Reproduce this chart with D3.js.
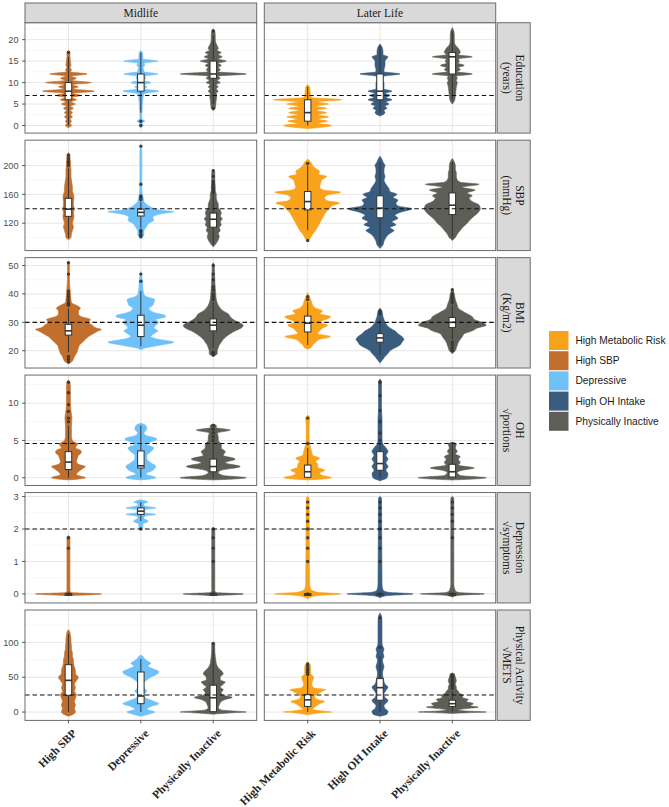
<!DOCTYPE html>
<html>
<head>
<meta charset="utf-8">
<script src="https://cdn.jsdelivr.net/npm/d3@7"></script>
<style>
  body { margin: 0; background: #fff; }
  svg { display: block; }
</style>
</head>
<body>
<script>
// categories
const stages = ["Midlife", "Later Life"];
const groupsMidlife = ["High SBP", "Depressive", "Physically Inactive"];
const groupsLater = ["High Metabolic Risk", "High OH Intake", "Physically Inactive"];
const legendGroups = ["High Metabolic Risk", "High SBP", "Depressive", "High OH Intake", "Physically Inactive"];
const legendColors = ["#F9A31C", "#C26F2D", "#6EC1F9", "#3A5C7E", "#5D5E56"];

// rows (facets)
const measureLabels = [
    ["Education", "(years)"],
    ["SBP", "(mmHg)"],
    ["BMI", "(Kg/m2)"],
    ["OH", "\u221Aportions"],
    ["Depression", "\u221Asymptoms"],
    ["Physical Activity", "\u221AMETS"]
];
const yLimits = [[-1.77, 23.95], [82, 235.3], [13.9, 52.8], [-1.04, 13.77], [-0.278, 3.124], [-12, 146.5]];
const yTicks = [[0, 5, 10, 15, 20], [120, 160, 200], [20, 30, 40, 50], [0, 5, 10], [0, 1, 2, 3], [0, 50, 100]];
const refValues = [7, 140, 30, 4.6, 2, 24.5];

// violin profiles: [value, relative half width]
// order in each: Midlife High SBP, Depressive, Phys. Inactive, Later High Metabolic Risk, High OH Intake, Phys. Inactive
const violinEducation = [
    [[-0.5,0],[0,3],[0.5,1.5],[1,3],[1.5,1.5],[2,4],[2.5,2],[3,4],[3.5,2],[4,5],[4.5,2],[5,7],[5.5,2.5],[6,8],[6.5,3],[7,12],[7.5,4],[8,26],[8.5,5],[9,10],[9.5,4],[10,23],[10.5,4],[11,8],[11.5,3],[12,18.7],[12.5,2],[13,3],[13.5,1.5],[14,2.5],[15,2],[16,1.5],[17,1.5],[17.5,0]],
    [[-0.5,0],[0,2],[0.5,1],[1,4],[1.5,1],[2,1],[3,1],[4,1.5],[5,1.5],[6,2],[7,2.5],[7.5,4],[8,18],[8.5,4],[9,6],[9.5,3],[10,10],[10.5,3],[11,5],[11.5,4],[12,17],[12.5,3],[13,3],[13.5,2],[14,4],[14.5,3],[15,17],[15.5,2],[16,2],[17,1.5],[17.5,0]],
    [[3.5,0],[4,2],[5,2.5],[6,3],[7,3.5],[7.5,3],[8,5],[8.5,3],[9,5],[9.5,3],[10,7],[10.5,4],[11,7],[11.5,5],[12,33],[12.5,5],[13,7],[13.5,5],[14,8],[14.5,5],[15,13],[15.5,5],[16,9],[16.5,5],[17,8],[17.5,4],[18,5],[19,3],[20,2],[21,2],[22,1.5],[22.5,0]],
    [[-0.7,0],[0,24],[0.5,10],[1,20],[1.5,10],[2,21],[2.5,10],[3,19],[3.5,9],[4,19],[4.5,9],[5,21],[5.5,10],[6,34],[6.5,4],[7,3],[8,2.5],[9,2],[9.5,0]],
    [[2.2,0],[3,5],[3.5,4],[4,7],[4.5,5],[5,9],[5.5,6],[6,12],[6.5,6],[7,10],[7.5,5],[8,12],[8.5,4],[9,4],[10,4],[10.5,3],[11,3],[11.5,4],[12,20],[12.5,4],[13,4],[14,5],[15,5],[16,8],[16.5,3],[17,3],[18,2.5],[19,0]],
    [[5,0],[6,2.5],[7,3],[8,3.5],[9,4],[10,5],[10.5,4],[11,5],[11.5,4],[12,20],[12.5,5],[13,8],[13.5,6],[14,12],[14.5,6],[15,7],[15.5,6],[16,20],[16.5,6],[17,8],[18,6],[19,2.5],[20,2],[21,2],[22,1.5],[22.8,0]]
];
const violinSBP = [
    [[97,0],[100,2.5],[105,3],[110,4],[115,5],[120,4],[125,5],[130,5.5],[135,5],[140,6],[145,5],[150,5],[155,5.5],[160,5],[165,4],[170,4],[175,3.5],[180,3],[185,2.5],[190,2.5],[195,2.5],[200,2],[205,2],[210,1.5],[215,1.5],[218,0]],
    [[100,0],[103,3],[108,3],[112,4],[116,6],[120,8],[124,13],[128,12],[131,15],[134,25],[136,33],[138,20],[141,12],[144,8],[147,5],[150,3],[155,2.5],[160,1.5],[170,1],[180,1],[200,1],[220,1],[228,0]],
    [[87,0],[92,3],[97,5],[102,6],[106,5],[110,7],[114,6],[118,8],[122,7],[126,9],[130,7],[134,8],[138,7],[142,5],[146,5],[150,4],[155,3],[160,3],[165,2],[170,2],[180,1.5],[190,1.5],[195,0]],
    [[94,0],[100,3],[105,5],[110,8],[115,10],[120,12],[125,14],[130,16],[135,18],[140,22],[144,24],[148,32],[151,20],[155,17],[159,20],[163,33],[166,16],[170,12],[175,13],[180,14],[185,19],[188,11],[192,12],[196,8],[200,5],[205,3],[209,0]],
    [[85,0],[90,3],[95,4],[100,6],[105,9],[110,14],[114,10],[118,16],[122,12],[127,18],[131,15],[135,20],[140,32],[144,18],[148,16],[152,18],[156,13],[160,17],[164,10],[168,9],[172,7],[176,5],[180,4],[185,5],[190,4],[195,4],[200,5],[205,3],[210,1.5],[213,0]],
    [[96,0],[100,3],[105,5],[110,8],[115,11],[120,15],[125,18],[130,22],[135,26],[140,28],[145,27],[150,20],[155,17],[158,20],[162,15],[166,23],[170,10],[174,27],[177,8],[180,5],[185,4],[190,4],[195,3],[200,3],[205,2],[210,0]]
];
const violinBMI = [
    [[15.5,0],[16,3],[17,5],[18,6],[19,8],[20,9],[21,10],[22,11],[23,14],[24,17],[25,20],[26,25],[27,30],[27.5,33],[28,28],[29,24],[30,20],[31,22],[32,13],[33,10],[34,10],[35,12],[36,8],[37,3],[38,2.5],[40,2],[42,1.5],[45,1],[48,1],[51,1],[51.5,0]],
    [[20.3,0],[21,5],[22,20],[23,33],[24,18],[25,10],[26,13],[27,17],[28,13],[29,15],[30,18],[31,15],[32,25],[32.5,24],[33,18],[34,10],[35,8],[36,12],[37,13],[38,14],[39,6],[40,3],[42,2],[45,1.5],[48,0]],
    [[18,0],[19,4],[20,4],[21,5],[22,6],[23,8],[24,10],[25,13],[26,17],[27,22],[28,28],[29,30],[30,25],[31,20],[32,17],[33,15],[34,10],[35,7],[36,5],[38,3],[40,2.5],[42,2],[45,1.5],[50,1],[51,0]],
    [[20.5,0],[21,3],[22,5],[23,8],[24,12],[25,23],[26,10],[27,12],[28,15],[29,20],[30,12],[31,18],[32,23],[33,12],[34,15],[35,8],[36,5],[37,4],[38,3],[39,2],[40.5,0]],
    [[15.7,0],[17,3],[18,5],[19,8],[20,10],[21,15],[22,20],[23,22],[24,24],[25,22],[26,18],[27,15],[28,10],[29,7],[30,5],[31,4],[32,3],[33,2.5],[34,2],[35,0]],
    [[19,0],[20,3],[21,4],[22,5],[23,6],[24,8],[25,10],[26,12],[27,20],[28,25],[29,34],[30,30],[31,22],[32,20],[33,15],[34,10],[35,6],[36,5],[37,4],[38,3],[40,2],[42,0]]
];
const violinOH = [
    [[-0.3,0],[0,17],[0.4,8],[0.8,10],[1.2,14],[1.5,17],[1.8,10],[2.2,8],[2.6,9],[3,10],[3.4,13],[3.7,12],[4,7],[4.5,9],[5,4],[5.5,3],[6,3],[7,3],[8,3.5],[9,2.5],[10,2],[11,2],[12,2],[12.8,1.5],[13.1,0]],
    [[-0.3,0],[0,15],[0.5,5],[1,12],[1.5,15],[2,10],[2.5,6],[3,6],[3.5,10],[4,13],[4.5,6],[5.2,16],[5.7,5],[6,3],[6.5,6],[7,5],[7.3,0]],
    [[-0.3,0],[0,33],[0.3,10],[0.7,5],[1,8],[1.5,27],[2,12],[2.5,22],[3,10],[3.5,12],[4,8],[4.5,8],[5,5],[5.5,5],[6,4],[6.4,17],[6.7,3],[7,3],[7.2,0]],
    [[-0.3,0],[0,24],[0.3,15],[0.6,12],[1,17],[1.4,10],[1.8,10],[2.2,8],[2.6,12],[3,5],[3.5,4],[4,3],[4.5,2],[5,1.5],[6,1.5],[7,1.5],[8,2],[8.4,0]],
    [[-0.4,0],[0,7],[0.5,8],[1,6],[1.5,8],[2,6],[2.5,8],[3,6],[3.5,8],[4,6],[4.5,3],[5,2],[6,2],[7,2],[8,2],[9,1.5],[10,1.5],[11,1.5],[12,1.5],[12.9,1.5],[13.2,0]],
    [[-0.3,0],[0,34],[0.3,8],[0.7,5],[1,10],[1.3,22],[1.7,6],[2,8],[2.5,6],[2.8,8],[3.2,3],[3.5,5],[4,3],[4.5,4],[4.8,0]]
];
const violinDepression = [
    [[-0.05,0],[0,33],[0.04,3],[0.1,1.5],[1.75,1.5],[1.8,0]],
    [[1.98,0],[2.05,2],[2.15,2],[2.24,7.5],[2.33,3],[2.4,4],[2.45,15],[2.5,4],[2.6,4],[2.65,15],[2.72,3],[2.78,3],[2.83,7],[2.9,0]],
    [[-0.05,0],[0,30],[0.04,3],[0.1,1.5],[2.0,1.5],[2.05,0]],
    [[-0.15,0],[-0.05,10],[0,33],[0.05,10],[0.15,3],[0.3,2],[2.95,1.5],[3.0,0]],
    [[-0.12,0],[-0.05,8],[0,33],[0.05,8],[0.12,3],[0.3,2],[2.95,1.5],[3.0,0]],
    [[-0.1,0],[-0.04,7],[0,32],[0.04,7],[0.1,3],[0.3,1.5],[2.95,1.5],[3.0,0]]
];
const violinActivity = [
    [[-6,0],[-3,5],[0,7],[5,6],[10,7],[15,6],[20,7],[25,8],[30,6],[35,7],[40,6],[45,8],[50,10],[55,7],[60,7],[65,6],[70,5],[75,5],[80,4],[85,4],[90,3],[95,3],[100,2.5],[105,2.5],[110,2],[115,1.5],[118,0]],
    [[-6,0],[-3,8],[0,14],[4,6],[8,10],[12,18],[16,12],[20,5],[25,3],[30,6],[35,3],[40,2],[45,5],[50,10],[55,17],[58,18],[62,12],[66,7],[70,10],[73,7],[76,4],[80,2],[82,0]],
    [[-3,0],[-1,20],[0,33],[1.5,20],[3,8],[6,5],[10,6],[15,8],[18,12],[21,19],[24,10],[28,8],[32,10],[36,7],[40,10],[43,12],[46,7],[50,7],[55,10],[58,9],[62,6],[66,4],[70,3],[75,2.5],[80,2],[90,1.5],[98,1.5],[100,0]],
    [[-4,0],[-1,15],[0,24],[1.5,15],[4,5],[8,8],[12,12],[15,17],[18,10],[22,7],[26,10],[30,15],[32,18],[35,6],[40,4],[45,5],[50,6],[55,3],[60,3],[65,3],[70,1.5],[72,0]],
    [[-6,0],[-3,7],[1,8],[5,5],[9,4],[14,7],[17,8],[21,5],[26,4],[31,6],[36,8],[40,5],[44,4],[50,3],[55,2.5],[60,3],[65,4],[70,3],[75,2.5],[80,4],[85,3],[90,4],[95,2.5],[100,2],[110,2],[120,2],[130,2],[138,1.5],[142,0]],
    [[-2,0],[-1,15],[0,34],[1.5,14],[3,6],[5,14],[7,26],[9,18],[12,21],[15,14],[18,16],[21,10],[24,11],[27,7],[30,6],[33,4],[36,4],[40,3],[45,4],[50,3],[55,2],[56,0]]
];

// box stats: [lower whisker, q1, median, q3, upper whisker]
const boxEducation = [[0,6,8,10,16],[3,8,10,12,17],[5,11,12,15,21],[0,1,3,6,9],[3,6,8,12,18.5],[6,12,16,17,22]];
const boxSBP = [[100,129.5,139.5,154.5,196],[113,130,135,139.5,150],[90,114.5,125.5,134,161],[110,138.5,150,164,200],[90,127.5,141,158,205],[100,132,145,162,205]];
const boxBMI = [[19.5,25.5,27,29.3,35],[21.5,25,29,32.5,41],[21,27,29,31.2,37],[22,26.6,29.7,32.2,37],[18.5,23,24.5,26,31],[24,28.2,30,31.7,36]];
const boxOH = [[0,1.1,2.1,3.5,7],[0,1.3,1.6,3.6,7],[0,0.8,1.5,2.5,4.5],[0,0.05,0.8,1.7,4],[0,1.0,1.9,3.5,4.6],[0,0.1,0.8,1.8,4.5]];
const boxDepression = [[0,0,0,0,0],[2.24,2.45,2.55,2.65,2.83],[0,0,0,0,0],[0,0,0,0,0],[0,0,0,0,0],[0,0,0,0,0]];
const boxActivity = [[0,24,45.5,68,112],[0,12,23,57.5,76],[0,0.5,20.5,38.5,95],[0,8,17.5,25,51],[0,17,35,48,80],[0,8,12,17,30]];

// outliers
const outEducation = [[17],[1,0],[4,22],[],[],[]];
const outSBP = [[200,203,206,210,214],[101,103,105,108,110,153,156,158,174,227],[163,166,170,174,178,185,193],[96,203],[],[]];
const outBMI = [[16,17,18,36,36.5,37,38,39,40,41,47,51],[44.5,47],[18.5,19,19.5,38,39,40,41.5,42.5,45,47,50],[38,39],[33,34],[20,21,22,23,37,38,39,40,41.5]];
const outOH = [[7.5,8,8.9,9.8,11.4,12.8],[],[5,5.5,6,6.5,7],[4.6,8],[5,6,7.5,9,11,12.8],[]];
const outDepression = [[0,1.41,1.73],[2.0],[0,1,1.41,1.73,2],[0,1,1.41,1.73,2,2.24,2.45,2.65,2.83],[0,1,1.41,1.73,2,2.24,2.45,2.65,2.83],[0,1.73,2.24,2.45,2.65,2.83]];
const outActivity = [[],[],[98.5],[54,57,60,63,66,69],[93,135],[34,37,40,43,46,50,53]];

const violins = [violinEducation, violinSBP, violinBMI, violinOH, violinDepression, violinActivity];
const boxes = [boxEducation, boxSBP, boxBMI, boxOH, boxDepression, boxActivity];
const outliers = [outEducation, outSBP, outBMI, outOH, outDepression, outActivity];

// layout
const W = 669, H = 807;
const panelX = [[25, 256.7], [264.3, 495.7]];
const panelTop = 22.7, panelH = 110.4, rowStep = 117.46;
const stripW = 33, stripTopH = 19.7;
const borderColor = "#6b6b6b";
const serif = "'Liberation Serif', 'Times New Roman', serif";
const sans = "'Liberation Sans', Arial, sans-serif";

const colorOf = d3.scaleOrdinal().domain(legendGroups).range(legendColors);

const svg = d3.select("body").append("svg")
    .attr("width", W)
    .attr("height", H);

const area = d3.area().curve(d3.curveMonotoneY);

for (let r = 0; r < 6; r++) {
    const top = panelTop + r * rowStep;
    const y = d3.scaleLinear().domain(yLimits[r]).range([top + panelH, top]);
    const ticks = yTicks[r];
    const tstep = ticks[1] - ticks[0];
    const minor = [];
    for (let v = ticks[0] - tstep / 2; v <= yLimits[r][1]; v += tstep) {
        if (v >= yLimits[r][0]) minor.push(v);
    }

    for (let c = 0; c < 2; c++) {
        const [x0, x1] = panelX[c];
        const groups = c === 0 ? groupsMidlife : groupsLater;
        const x = d3.scalePoint().domain(groups).range([x0, x1]).padding(0.6);
        const w = d3.scaleLinear().domain([0, 33]).range([0, x.step() * 0.455]);
        const boxHalf = x.step() * 0.045;

        const g = svg.append("g");

        g.append("rect").attr("x", x0).attr("y", top)
            .attr("width", x1 - x0).attr("height", panelH).attr("fill", "#fff");

        g.selectAll(".minor").data(minor).enter().append("line")
            .attr("x1", x0).attr("x2", x1)
            .attr("y1", d => y(d)).attr("y2", d => y(d))
            .attr("stroke", "#f2f2f2").attr("stroke-width", 0.6);
        g.selectAll(".major").data(ticks).enter().append("line")
            .attr("x1", x0).attr("x2", x1)
            .attr("y1", d => y(d)).attr("y2", d => y(d))
            .attr("stroke", "#e6e6e6").attr("stroke-width", 1);
        g.selectAll(".vgrid").data(groups).enter().append("line")
            .attr("x1", d => x(d)).attr("x2", d => x(d))
            .attr("y1", top).attr("y2", top + panelH)
            .attr("stroke", "#e6e6e6").attr("stroke-width", 1);

        groups.forEach((grp, j) => {
            const idx = c * 3 + j;
            const cx = x(grp);
            const prof = violins[r][idx].slice().reverse();
            const col = colorOf(grp);

            g.append("path")
                .datum(prof)
                .attr("d", area.y(d => y(d[0])).x0(d => cx - w(d[1])).x1(d => cx + w(d[1])))
                .attr("fill", col)
                .attr("stroke", col)
                .attr("stroke-width", 0.6);

            const b = boxes[r][idx];
            g.append("line")
                .attr("x1", cx).attr("x2", cx)
                .attr("y1", y(b[0])).attr("y2", y(b[4]))
                .attr("stroke", "#333").attr("stroke-width", 1);
            g.append("rect")
                .attr("x", cx - boxHalf).attr("width", boxHalf * 2)
                .attr("y", y(b[3])).attr("height", Math.max(y(b[1]) - y(b[3]), 1.5))
                .attr("fill", "#fff").attr("stroke", "#333").attr("stroke-width", 1);
            g.append("line")
                .attr("x1", cx - boxHalf).attr("x2", cx + boxHalf)
                .attr("y1", y(b[2])).attr("y2", y(b[2]))
                .attr("stroke", "#333").attr("stroke-width", 1.6);

            g.selectAll(null).data(outliers[r][idx]).enter().append("circle")
                .attr("cx", cx).attr("cy", d => y(d)).attr("r", 1.7)
                .attr("fill", "#333").attr("fill-opacity", 0.9);
        });

        g.append("line")
            .attr("x1", x0).attr("x2", x1)
            .attr("y1", y(refValues[r])).attr("y2", y(refValues[r]))
            .attr("stroke", "#111").attr("stroke-width", 1.1)
            .attr("stroke-dasharray", "4.5,3");

        g.append("rect").attr("x", x0).attr("y", top)
            .attr("width", x1 - x0).attr("height", panelH)
            .attr("fill", "none").attr("stroke", borderColor).attr("stroke-width", 1);

        // y axis
        if (c === 0) {
            const ay = svg.append("g");
            ay.selectAll("line").data(ticks).enter().append("line")
                .attr("x1", x0 - 3).attr("x2", x0)
                .attr("y1", d => y(d)).attr("y2", d => y(d))
                .attr("stroke", "#333").attr("stroke-width", 0.8);
            ay.selectAll("text").data(ticks).enter().append("text")
                .attr("x", x0 - 6.5).attr("y", d => y(d)).attr("dy", "0.35em")
                .attr("text-anchor", "end")
                .attr("font-family", sans).attr("font-size", 9.2)
                .attr("fill", "#4d4d4d")
                .text(d => d);
        }

        // top strips
        if (r === 0) {
            svg.append("rect")
                .attr("x", x0).attr("y", top - stripTopH)
                .attr("width", x1 - x0).attr("height", stripTopH)
                .attr("fill", "#d9d9d9").attr("stroke", borderColor).attr("stroke-width", 1);
            svg.append("text")
                .attr("x", (x0 + x1) / 2).attr("y", top - stripTopH / 2).attr("dy", "0.35em")
                .attr("text-anchor", "middle")
                .attr("font-family", serif).attr("font-size", 11.5)
                .attr("fill", "#1a1a1a")
                .text(stages[c]);
        }

        // x labels
        if (r === 5) {
            const ax = svg.append("g");
            ax.selectAll("line").data(groups).enter().append("line")
                .attr("x1", d => x(d)).attr("x2", d => x(d))
                .attr("y1", top + panelH).attr("y2", top + panelH + 3)
                .attr("stroke", "#333").attr("stroke-width", 0.8);
            ax.selectAll("text").data(groups).enter().append("text")
                .attr("transform", d => "translate(" + (x(d) + 3) + "," + (top + panelH + 8) + ") rotate(-45)")
                .attr("dy", "0.7em")
                .attr("text-anchor", "end")
                .attr("font-family", serif).attr("font-weight", "bold").attr("font-size", 11.5)
                .attr("fill", "#262626")
                .text(d => d);
        }
    }

    // right strip
    const sx = panelX[1][1] + 1.5;
    svg.append("rect")
        .attr("x", sx).attr("y", top)
        .attr("width", stripW).attr("height", panelH)
        .attr("fill", "#d9d9d9").attr("stroke", borderColor).attr("stroke-width", 1);
    const st = svg.append("text")
        .attr("transform", "translate(" + (sx + stripW / 2) + "," + (top + panelH / 2) + ") rotate(90)")
        .attr("text-anchor", "middle")
        .attr("font-family", serif).attr("font-size", 11.5)
        .attr("fill", "#1a1a1a");
    measureLabels[r].forEach((t, i) => {
        st.append("tspan").attr("x", 0).attr("y", i === 0 ? -2.5 : 10.5).text(t);
    });
}

// legend
const lg = svg.append("g");
legendGroups.forEach((grp, i) => {
    const ly = 331 + i * 20.2;
    lg.append("rect")
        .attr("x", 549).attr("y", ly)
        .attr("width", 19.5).attr("height", 19)
        .attr("fill", colorOf(grp));
    lg.append("text")
        .attr("x", 575.5).attr("y", ly + 9.5).attr("dy", "0.35em")
        .attr("font-family", sans).attr("font-size", 10.2)
        .attr("fill", "#1a1a1a")
        .text(grp);
});
</script>
</body>
</html>
